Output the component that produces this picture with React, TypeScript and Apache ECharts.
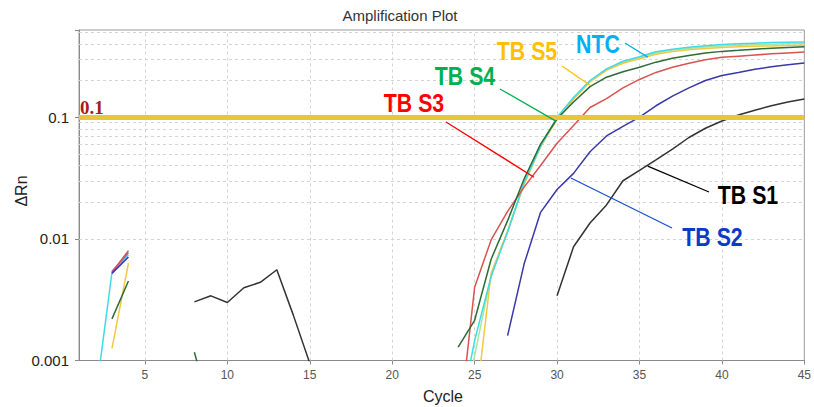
import React, { useEffect, useRef } from "react";
import * as echarts from "echarts";

// ---- data ----
const X_TICKS = [5, 10, 15, 20, 25, 30, 35, 40, 45];
const X_GRID = [5, 10, 15, 20, 25, 30, 35, 40];
const Y_GRID = [
  0.002, 0.003, 0.004, 0.005, 0.006, 0.007, 0.008, 0.009, 0.01,
  0.02, 0.03, 0.04, 0.05, 0.06, 0.07, 0.08, 0.09,
  0.2, 0.3, 0.4, 0.5,
];
const THRESHOLD = 0.1;

type Pt = [number, number | null];

const NTC: Pt[] = [
  [2, 0.00049], [3, 0.0053], [4, 0.0074], [5, null],
  [24, 0.0003], [25, 0.00146], [26, 0.0049], [27, 0.0114], [28, 0.029], [29, 0.0575],
  [30, 0.1], [31, 0.145], [32, 0.2], [33, 0.249], [34, 0.288], [35, 0.313], [36, 0.344],
  [37, 0.362], [38, 0.375], [39, 0.386], [40, 0.395], [41, 0.4], [42, 0.405], [43, 0.41],
  [44, 0.413], [45, 0.415],
];
const PALE_GREEN: Pt[] = [
  [24, 0.0002], [25, 0.0011], [26, 0.005], [27, 0.0115], [28, 0.0285], [29, 0.058],
  [30, 0.098], [31, 0.143], [32, 0.198], [33, 0.246], [34, 0.283], [35, 0.308], [36, 0.337],
  [37, 0.356], [38, 0.367], [39, 0.377], [40, 0.384], [41, 0.389], [42, 0.393], [43, 0.397],
  [44, 0.4], [45, 0.402],
];
const TB_S5: Pt[] = [
  [3, 0.00126], [4, 0.0063], [5, null],
  [25, 0.00036], [26, 0.0052], [27, 0.0116], [28, 0.028], [29, 0.057], [30, 0.096],
  [31, 0.14], [32, 0.195], [33, 0.242], [34, 0.277], [35, 0.302], [36, 0.328], [37, 0.346],
  [38, 0.358], [39, 0.367], [40, 0.373], [41, 0.378], [42, 0.382], [43, 0.385], [44, 0.387],
  [45, 0.389],
];
const TB_S4: Pt[] = [
  [3, 0.0022], [4, 0.0045], [5, null],
  [8, 0.00117], [9, 0.00037], [10, null],
  [24, 0.00129], [25, 0.00214], [26, 0.0068], [27, 0.0141], [28, 0.031], [29, 0.06],
  [30, 0.097], [31, 0.133], [32, 0.178], [33, 0.213], [34, 0.236], [35, 0.257], [36, 0.283],
  [37, 0.305], [38, 0.321], [39, 0.336], [40, 0.347], [41, 0.354], [42, 0.362], [43, 0.369],
  [44, 0.374], [45, 0.378],
];
const TB_S3: Pt[] = [
  [3, 0.0053], [4, 0.008], [5, null],
  [24, 0.00024], [25, 0.004], [26, 0.0098], [27, 0.0168], [28, 0.0266], [29, 0.04],
  [30, 0.061], [31, 0.0855], [32, 0.12], [33, 0.142], [34, 0.174], [35, 0.204], [36, 0.233],
  [37, 0.257], [38, 0.277], [39, 0.296], [40, 0.31], [41, 0.317], [42, 0.324], [43, 0.331],
  [44, 0.337], [45, 0.343],
];
const PURPLE: Pt[] = [[3, 0.0054], [4, 0.0077]];
const TB_S2: Pt[] = [
  [3, 0.0052], [4, 0.0071], [5, null],
  [27, 0.0016], [28, 0.0062], [29, 0.0165], [30, 0.0254], [31, 0.0345], [32, 0.052],
  [33, 0.07], [34, 0.084], [35, 0.1], [36, 0.124], [37, 0.149], [38, 0.174], [39, 0.2],
  [40, 0.22], [41, 0.233], [42, 0.247], [43, 0.259], [44, 0.269], [45, 0.278],
];
const TB_S1: Pt[] = [
  [8, 0.00303], [9, 0.0034], [10, 0.003], [11, 0.00396], [12, 0.00439], [13, 0.00557],
  [14, 0.00236], [15, 0.00095], [16, null],
  [30, 0.0034], [31, 0.0086], [32, 0.0135], [33, 0.019], [34, 0.03], [35, 0.0365],
  [36, 0.0446], [37, 0.0545], [38, 0.068], [39, 0.081], [40, 0.093], [41, 0.104],
  [42, 0.114], [43, 0.124], [44, 0.133], [45, 0.141],
];

const CURVES = [
  { name: "Pale", data: PALE_GREEN, color: "#a8e69a" },
  { name: "TB S5", data: TB_S5, color: "#f2c744" },
  { name: "NTC", data: NTC, color: "#3fdbe9" },
  { name: "Purple", data: PURPLE, color: "#8a5fc4" },
  { name: "TB S3", data: TB_S3, color: "#d9534f" },
  { name: "TB S2", data: TB_S2, color: "#3838a8" },
  { name: "TB S4", data: TB_S4, color: "#2f6b35" },
  { name: "TB S1", data: TB_S1, color: "#333333" },
];

// annotation: label centre (px), leader start (px), leader target on curve (data)
const ANNOTATIONS = [
  { text: "NTC", color: "#00b0f0", line: "#00b0f0", label: [598, 44], from: [625, 43], target: [35.5, 0.311] },
  { text: "TB S5", color: "#ffc000", line: "#ffc000", label: [527, 51], from: [562, 66], target: [31.99, 0.183] },
  { text: "TB S4", color: "#00b050", line: "#00b050", label: [465, 75.5], from: [500, 89], target: [29.93, 0.0927] },
  { text: "TB S3", color: "#ff0000", line: "#ff0000", label: [414, 102.5], from: [446, 122], target: [28.6, 0.0321] },
  { text: "TB S1", color: "#000000", line: "#000000", label: [748, 195], from: [709, 192], target: [35.5, 0.0396] },
  { text: "TB S2", color: "#0b3bc4", line: "#1a4fd0", label: [712.5, 236.7], from: [672, 228], target: [30.84, 0.0316] },
];

const SANS = "'Liberation Sans', Arial, sans-serif";

function isPow10(v: number) {
  const l = Math.log10(v);
  return Math.abs(l - Math.round(l)) < 1e-6;
}

export default function App() {
  const ref = useRef<HTMLDivElement>(null);
  useEffect(() => {
    if (!ref.current) return;
    const chart = echarts.init(ref.current, null, { renderer: "svg" });
    const option: any = {
      animation: false,
      backgroundColor: "#ffffff",
      grid: {
        left: 79, right: 8, top: 30, bottom: 46.5,
        show: true, borderColor: "#9a9a9a", borderWidth: 1, backgroundColor: "transparent",
      },
      xAxis: {
        type: "value", min: 1, max: 45,
        axisLine: { show: true, lineStyle: { color: "#8a8a8a" } },
        axisTick: { show: true, length: 4, customValues: X_TICKS, lineStyle: { color: "#8a8a8a" } },
        axisLabel: { customValues: X_TICKS, fontSize: 12, color: "#555", fontFamily: SANS, margin: 8 },
        splitLine: { show: false },
      },
      yAxis: {
        type: "log", min: 0.001, max: 0.52, logBase: 10,
        axisLine: { show: true, lineStyle: { color: "#8a8a8a" } },
        axisTick: { show: true, length: 4, lineStyle: { color: "#8a8a8a" } },
        axisLabel: {
          fontSize: 15, color: "#222", fontFamily: SANS, margin: 10,
          formatter: (v: number) => (isPow10(v) ? String(Number(v.toPrecision(3))) : ""),
        },
        splitLine: { show: false },
      },
      graphic: [
        { type: "text", x: 400, y: 15, z: 50,
          style: { text: "Amplification Plot", fill: "#333", fontSize: 15, fontFamily: SANS,
            align: "center", verticalAlign: "middle", textAlign: "center", textVerticalAlign: "middle" } },
        { type: "text", x: 21, y: 191, rotation: Math.PI / 2, z: 50,
          style: { text: "ΔRn", fill: "#222", fontSize: 16, fontFamily: SANS,
            align: "center", verticalAlign: "middle", textAlign: "center", textVerticalAlign: "middle" } },
        { type: "text", x: 443, y: 396, z: 50,
          style: { text: "Cycle", fill: "#222", fontSize: 16, fontFamily: SANS,
            align: "center", verticalAlign: "middle", textAlign: "center", textVerticalAlign: "middle" } },
      ],
      series: [
        {
          type: "line", name: "grid", data: [], silent: true, z: 1,
          markLine: {
            silent: true, symbol: "none", z: 1, animation: false,
            label: { show: false },
            lineStyle: { color: "#d4d4d4", type: [3, 3], width: 1 },
            emphasis: { disabled: true },
            data: [
              ...Y_GRID.map((v) => ({ yAxis: v })),
              ...X_GRID.map((v) => ({ xAxis: v })),
            ],
          },
        },
        ...CURVES.map((c) => ({
          type: "line", name: c.name, data: c.data, showSymbol: false, symbol: "none",
          connectNulls: false, z: 3, silent: true,
          lineStyle: { color: c.color, width: 1.5 },
          itemStyle: { color: c.color },
        })),
        {
          type: "line", name: "threshold", data: [], silent: true, z: 5,
          markLine: {
            silent: true, symbol: "none", z: 5, animation: false,
            emphasis: { disabled: true },
            lineStyle: { color: "#ecc43a", width: 5, type: "solid" },
            label: {
              show: true, position: "insideStartTop", formatter: "0.1",
              color: "#a51d1d", fontFamily: "'Liberation Serif', 'Times New Roman', serif",
              fontWeight: "bold", fontSize: 19, distance: [1, 0],
            },
            data: [{ yAxis: THRESHOLD }],
          },
        },
      ],
    };
    chart.setOption(option);

    const extra: any[] = [];
    ANNOTATIONS.forEach((a) => {
      const p = chart.convertToPixel({ xAxisIndex: 0, yAxisIndex: 0 }, a.target) as number[];
      extra.push({
        type: "line", z: 60, silent: true,
        shape: { x1: a.from[0], y1: a.from[1], x2: p[0], y2: p[1] },
        style: { stroke: a.line, lineWidth: 1.3 },
      });
      extra.push({
        type: "text", x: a.label[0], y: a.label[1], scaleX: 0.82, z: 61, silent: true,
        style: {
          text: a.text, fill: a.color, fontSize: 26, fontWeight: "bold", fontFamily: SANS,
          align: "center", verticalAlign: "middle", textAlign: "center", textVerticalAlign: "middle",
        },
      });
    });
    chart.setOption({ graphic: [...option.graphic, ...extra] });

    return () => chart.dispose();
  }, []);

  return (
    <div
      ref={ref}
      style={{ position: "fixed", left: 0, top: 0, width: 814, height: 407, background: "#fff" }}
    />
  );
}
